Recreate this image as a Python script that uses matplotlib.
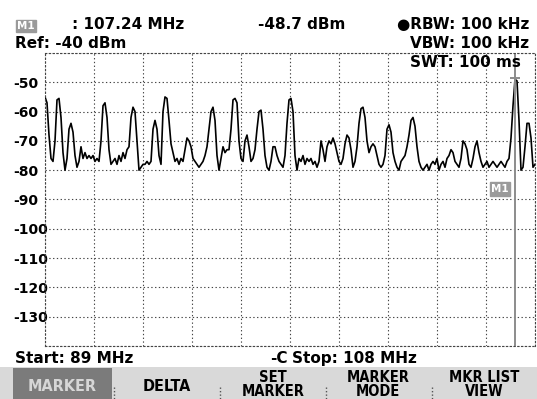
import numpy as np
import matplotlib
matplotlib.use("Agg")
import matplotlib.pyplot as plt
from matplotlib.lines import Line2D
from matplotlib.patches import Rectangle

# sweep settings
start_mhz = 89.0
stop_mhz = 108.0
ref_dbm = -40
db_per_div = 10

# trace levels (dBm), one per sweep point
levels = [
    -55, -57, -68, -76, -77, -70, -56, -55.5, -62, -74, -80, -76, -66, -64, -67, -75,
    -79, -77, -72, -76, -74, -76, -75, -76, -75, -77, -76, -77, -70, -58, -57, -62,
    -73, -78, -77, -76, -78, -75, -77, -74, -76, -73, -72, -62, -58.5, -60, -70, -80,
    -79, -78, -78, -77, -78, -77, -66, -63, -66, -75, -78, -60, -55, -55.5, -63, -71,
    -74, -77, -76, -78, -76, -77, -73, -69, -70, -72, -76, -77, -78, -79, -78, -77,
    -75, -72, -66, -60, -58.5, -63, -75, -80, -76, -72, -74, -73, -73, -66, -56, -55.5,
    -57, -70, -76, -77, -70, -68, -72, -77, -76, -73, -66, -60, -59.5, -66, -75, -79,
    -80, -77, -72, -72, -75, -77, -78, -79, -75, -64, -56, -55.5, -60, -75, -80, -76,
    -77, -75, -78, -76, -77, -76, -78, -77, -79, -77, -70, -73, -77, -72, -70, -71,
    -69, -71, -74, -77, -78, -76, -71, -68, -69, -73, -79, -77, -72, -64, -59, -58.5,
    -62, -70, -74, -72, -71, -72, -75, -78, -79, -78, -75, -66, -64.5, -67, -74, -77,
    -79, -80, -77, -76, -75, -72, -68, -63, -62, -65, -72, -77, -79, -80, -79, -78,
    -80, -78, -77, -78, -76, -80, -78, -77, -79, -76, -75, -73, -74, -77, -78, -79,
    -76, -70, -71, -73, -78, -79, -76, -72, -70, -74, -77, -79, -78, -77, -79, -78,
    -77, -78, -79, -78, -77, -78, -79, -77, -76, -69, -58, -49, -49.5, -63, -80, -79,
    -72, -64, -64, -69, -79, -78,
]

marker_freq = 107.24
marker_level = -48.7
y_labels = [-50, -60, -70, -80, -90, -100, -110, -120, -130]

softkeys = ["MARKER", "DELTA", "SET\nMARKER", "MARKER\nMODE", "MKR LIST\nVIEW"]
softkey_x = [62, 167, 273, 378, 484]

W, H = 537, 399
plt.rcParams["font.family"] = ["DejaVu Sans", "Liberation Sans"]
plt.rcParams["font.weight"] = "bold"


def fx(x):
    return x / W


def fy(y):
    return 1 - y / H


freq = np.linspace(start_mhz, stop_mhz, len(levels))

fig = plt.figure(figsize=(W / 100, H / 100), dpi=100)
fig.patch.set_facecolor("white")
ax = fig.add_axes([fx(45), fy(346), fx(535) - fx(45), fy(53) - fy(346)])

dot = (0, (1.2, 2.2))
ax.set_xlim(start_mhz, stop_mhz)
ax.set_ylim(ref_dbm - 10 * db_per_div, ref_dbm)
ax.set_xticks(np.linspace(start_mhz, stop_mhz, 11))
ax.set_yticks(np.arange(-140, -39, 10))
ax.set_xticklabels([])
ax.set_yticklabels([str(v) if v in y_labels else "" for v in np.arange(-140, -39, 10)],
                   ha="left", fontsize=10, fontweight="bold")
ax.tick_params(length=0, pad=23)
ax.grid(True, color="#444444", linestyle=dot, linewidth=0.8)
for s in ax.spines.values():
    s.set_linestyle(dot)
    s.set_color("#444444")
    s.set_linewidth(0.8)

ax.plot(freq, levels, color="black", lw=1.2)

# marker
ax.axvline(marker_freq, color="#8c8c8c", lw=1.4)
ax.plot([marker_freq], [marker_level], marker="_", color="#8c8c8c", ms=7, mew=1.4)
ax.text(106.64, -86.4, "M1", color="white", fontsize=7.5, ha="center", va="center",
        bbox=dict(boxstyle="square,pad=0.15", fc="#9a9a9a", ec="#9a9a9a"))

# header
hs = 11
fig.text(fx(17), fy(29), "M1", color="white", fontsize=7.5,
         bbox=dict(boxstyle="square,pad=0.12", fc="#9a9a9a", ec="#9a9a9a"))
fig.text(fx(72), fy(29), ": %.2f MHz" % marker_freq, fontsize=hs)
fig.text(fx(345), fy(29), "%.1f dBm" % marker_level, fontsize=hs, ha="right")
fig.text(fx(529), fy(29), "\u25cfRBW: 100 kHz", fontsize=hs, ha="right")
fig.text(fx(15), fy(48), "Ref: %d dBm" % ref_dbm, fontsize=hs)
fig.text(fx(529), fy(48), "VBW: 100 kHz", fontsize=hs, ha="right")
fig.text(fx(521), fy(67), "SWT: 100 ms", fontsize=hs, ha="right")

# footer
fig.text(fx(15), fy(363), "Start: %d MHz" % start_mhz, fontsize=hs)
fig.text(fx(270), fy(363), "-C", fontsize=hs)
fig.text(fx(292), fy(363), "Stop: %d MHz" % stop_mhz, fontsize=hs)

# softkey bar
fig.add_artist(Rectangle((0, 0), 1, fy(367), transform=fig.transFigure,
                         fc="#d9d9d9", ec="none"))
fig.add_artist(Rectangle((fx(13), 0), fx(112) - fx(13), fy(368), transform=fig.transFigure,
                         fc="#7b7b7b", ec="none"))
for sx in [114, 220, 326, 432]:
    fig.add_artist(Line2D([fx(sx), fx(sx)], [fy(387), 0], transform=fig.transFigure,
                          color="#555555", lw=1.0, linestyle=(0, (1, 1.5))))
for i, (lab, cx) in enumerate(zip(softkeys, softkey_x)):
    col = "#d6d6d6" if i == 0 else "black"
    if "\n" in lab:
        top, bot = lab.split("\n")
        fig.text(fx(cx), fy(382), top, fontsize=10.5, ha="center", color=col,
                 fontstretch="condensed")
        fig.text(fx(cx), fy(395.5), bot, fontsize=10.5, ha="center", color=col,
                 fontstretch="condensed")
    else:
        fig.text(fx(cx), fy(391), lab, fontsize=11.5, ha="center", color=col,
                 fontstretch="condensed")

fig.savefig("out.png", dpi=100)
